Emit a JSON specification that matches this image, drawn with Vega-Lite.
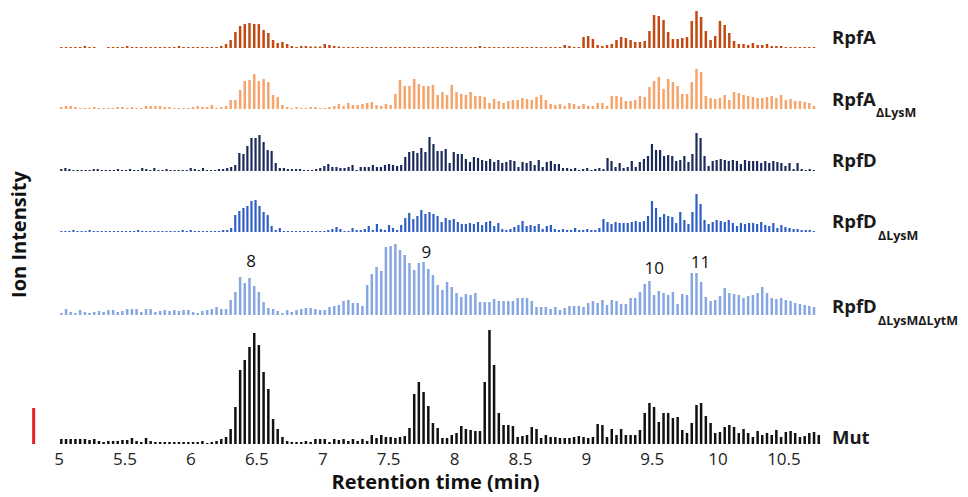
{
"$schema": "https://vega.github.io/schema/vega-lite/v6.json",
"background": "white",
"padding": {"left": 8, "top": 5, "right": 0, "bottom": 0},
"config": {"view": {"stroke": null}, "font": "Open Sans", "axis": {"grid": false}},
"spacing": 0,
"bounds": "flush",
"datasets": {
"ga": [
{"t":5.020,"A":1,"AL":2,"LL":2,"M":5},{"t":5.056,"A":1,"AL":3,"LL":6,"M":5},{"t":5.091,"A":1,"AL":3,"LL":3,"M":5},{"t":5.127,"A":1,"AL":2,"LL":2,"M":5},{"t":5.163,"A":1,"AL":1,"LL":5,"M":5},
{"t":5.199,"A":2,"AL":1,"LL":3,"M":5},{"t":5.234,"A":1,"AL":1,"LL":2,"M":4},{"t":5.270,"A":1,"AL":2,"LL":3,"M":5},{"t":5.306,"A":0,"AL":1,"LL":4,"M":3},{"t":5.341,"A":0,"AL":1,"LL":3,"M":2},
{"t":5.377,"A":1,"AL":1,"LL":5,"M":3},{"t":5.413,"A":1,"AL":1,"LL":5,"M":3},{"t":5.448,"A":1,"AL":2,"LL":3,"M":3},{"t":5.484,"A":1,"AL":2,"LL":4,"M":4},{"t":5.520,"A":2,"AL":1,"LL":6,"M":4},
{"t":5.556,"A":1,"AL":2,"LL":6,"M":6},{"t":5.591,"A":1,"AL":1,"LL":6,"M":3},{"t":5.627,"A":1,"AL":1,"LL":3,"M":2},{"t":5.663,"A":1,"AL":3,"LL":6,"M":6},{"t":5.698,"A":1,"AL":3,"LL":6,"M":3},
{"t":5.734,"A":1,"AL":3,"LL":3,"M":2},{"t":5.770,"A":1,"AL":3,"LL":4,"M":2},{"t":5.805,"A":1,"AL":2,"LL":5,"M":2},{"t":5.841,"A":1,"AL":2,"LL":4,"M":2},{"t":5.877,"A":1,"AL":1,"LL":5,"M":2},
{"t":5.913,"A":2,"AL":1,"LL":4,"M":2},{"t":5.948,"A":1,"AL":1,"LL":5,"M":2},{"t":5.984,"A":1,"AL":1,"LL":5,"M":2},{"t":6.020,"A":1,"AL":2,"LL":3,"M":2},{"t":6.055,"A":1,"AL":3,"LL":2,"M":2},
{"t":6.091,"A":1,"AL":2,"LL":4,"M":3},{"t":6.127,"A":1,"AL":2,"LL":5,"M":1},{"t":6.162,"A":1,"AL":4,"LL":6,"M":2},{"t":6.198,"A":1,"AL":1,"LL":8,"M":3},{"t":6.234,"A":2,"AL":2,"LL":6,"M":5},
{"t":6.270,"A":4,"AL":3,"LL":6,"M":7},{"t":6.305,"A":8,"AL":9,"LL":15,"M":15},{"t":6.341,"A":16,"AL":9,"LL":23,"M":37},{"t":6.377,"A":22,"AL":19,"LL":38,"M":74},{"t":6.412,"A":24,"AL":28,"LL":32,"M":84},
{"t":6.448,"A":25,"AL":29,"LL":37,"M":97},{"t":6.484,"A":24,"AL":35,"LL":29,"M":111},{"t":6.519,"A":24,"AL":28,"LL":23,"M":99},{"t":6.555,"A":18,"AL":30,"LL":13,"M":72},{"t":6.591,"A":15,"AL":27,"LL":7,"M":55},
{"t":6.627,"A":8,"AL":14,"LL":6,"M":25},{"t":6.662,"A":5,"AL":12,"LL":4,"M":15},{"t":6.698,"A":6,"AL":4,"LL":2,"M":7},{"t":6.734,"A":4,"AL":2,"LL":5,"M":3},{"t":6.769,"A":2,"AL":1,"LL":3,"M":2},
{"t":6.805,"A":1,"AL":2,"LL":5,"M":2},{"t":6.841,"A":2,"AL":1,"LL":6,"M":2},{"t":6.876,"A":2,"AL":1,"LL":7,"M":3},{"t":6.912,"A":1.5,"AL":2,"LL":7,"M":2},{"t":6.948,"A":1.5,"AL":2,"LL":6,"M":5},
{"t":6.984,"A":1.5,"AL":1,"LL":5,"M":5},{"t":7.019,"A":4,"AL":1,"LL":5,"M":5},{"t":7.055,"A":3,"AL":2,"LL":8,"M":2},{"t":7.091,"A":2,"AL":3,"LL":9,"M":5},{"t":7.126,"A":1.5,"AL":5,"LL":10,"M":4},
{"t":7.162,"A":1,"AL":3,"LL":14,"M":5},{"t":7.198,"A":1,"AL":6,"LL":15,"M":3},{"t":7.233,"A":1,"AL":4,"LL":12,"M":5},{"t":7.269,"A":1,"AL":4,"LL":12,"M":3},{"t":7.305,"A":1,"AL":5,"LL":9,"M":5},
{"t":7.341,"A":1,"AL":6,"LL":30,"M":3},{"t":7.376,"A":1,"AL":7,"LL":41,"M":9},{"t":7.412,"A":1,"AL":4,"LL":48,"M":6},{"t":7.448,"A":1,"AL":3,"LL":44,"M":9},{"t":7.483,"A":1,"AL":5,"LL":68,"M":7},
{"t":7.519,"A":1,"AL":4,"LL":69,"M":7},{"t":7.555,"A":1,"AL":15,"LL":71,"M":6},{"t":7.590,"A":1,"AL":29,"LL":65,"M":7},{"t":7.626,"A":1,"AL":23,"LL":60,"M":8},{"t":7.662,"A":1,"AL":23,"LL":52,"M":16},
{"t":7.698,"A":1,"AL":30,"LL":45,"M":50},{"t":7.733,"A":1,"AL":25,"LL":52,"M":62},{"t":7.769,"A":1,"AL":23,"LL":53,"M":52},{"t":7.805,"A":1,"AL":23,"LL":46,"M":38},{"t":7.840,"A":1,"AL":24,"LL":40,"M":21},
{"t":7.876,"A":1,"AL":14,"LL":30,"M":16},{"t":7.912,"A":1,"AL":17,"LL":25,"M":6},{"t":7.947,"A":1,"AL":14,"LL":33,"M":6},{"t":7.983,"A":1,"AL":24,"LL":28,"M":9},{"t":8.019,"A":1,"AL":17,"LL":22,"M":11},
{"t":8.055,"A":1,"AL":15,"LL":18,"M":18},{"t":8.090,"A":1,"AL":14,"LL":21,"M":15},{"t":8.126,"A":1,"AL":17,"LL":20,"M":14},{"t":8.162,"A":1,"AL":13,"LL":22,"M":13},{"t":8.197,"A":2,"AL":13,"LL":13,"M":13},
{"t":8.233,"A":1,"AL":12,"LL":13,"M":62},{"t":8.269,"A":1,"AL":6,"LL":13,"M":114},{"t":8.304,"A":1,"AL":10,"LL":16,"M":79},{"t":8.340,"A":1,"AL":8,"LL":14,"M":31},{"t":8.376,"A":1,"AL":6,"LL":14,"M":19},
{"t":8.412,"A":1,"AL":8,"LL":14,"M":19},{"t":8.447,"A":1,"AL":9,"LL":14,"M":18},{"t":8.483,"A":1,"AL":9,"LL":17,"M":7},{"t":8.519,"A":1,"AL":11,"LL":17,"M":8},{"t":8.554,"A":1,"AL":10,"LL":17,"M":9},
{"t":8.590,"A":1,"AL":9,"LL":14,"M":17},{"t":8.626,"A":1,"AL":12,"LL":8,"M":15},{"t":8.661,"A":1,"AL":14,"LL":8,"M":6},{"t":8.697,"A":1,"AL":9,"LL":8,"M":9},{"t":8.733,"A":1,"AL":5,"LL":6,"M":7},
{"t":8.769,"A":1,"AL":4,"LL":8,"M":7},{"t":8.804,"A":1,"AL":5,"LL":5,"M":6},{"t":8.840,"A":3,"AL":3,"LL":7,"M":6},{"t":8.876,"A":2,"AL":6,"LL":9,"M":6},{"t":8.911,"A":1,"AL":5,"LL":9,"M":7},
{"t":8.947,"A":1,"AL":3,"LL":9,"M":8},{"t":8.983,"A":11,"AL":5,"LL":8,"M":7},{"t":9.018,"A":12,"AL":3,"LL":12,"M":6},{"t":9.054,"A":9,"AL":3,"LL":14,"M":7},{"t":9.090,"A":3,"AL":6,"LL":12,"M":20},
{"t":9.126,"A":2,"AL":6,"LL":15,"M":19},{"t":9.161,"A":3,"AL":3,"LL":10,"M":7},{"t":9.197,"A":4,"AL":13,"LL":15,"M":15},{"t":9.233,"A":8,"AL":13,"LL":14,"M":9},{"t":9.268,"A":11,"AL":12,"LL":11,"M":15},
{"t":9.304,"A":10,"AL":8,"LL":11,"M":9},{"t":9.340,"A":8,"AL":8,"LL":17,"M":9},{"t":9.375,"A":6,"AL":9,"LL":17,"M":9},{"t":9.411,"A":6,"AL":13,"LL":23,"M":14},{"t":9.447,"A":7,"AL":12,"LL":31,"M":31},
{"t":9.483,"A":17,"AL":22,"LL":34,"M":41},{"t":9.518,"A":33,"AL":28,"LL":20,"M":37},{"t":9.554,"A":32,"AL":32,"LL":24,"M":22},{"t":9.590,"A":28,"AL":20,"LL":22,"M":31},{"t":9.625,"A":16,"AL":30,"LL":20,"M":31},
{"t":9.661,"A":9,"AL":27,"LL":23,"M":26},{"t":9.697,"A":9,"AL":23,"LL":11,"M":27},{"t":9.732,"A":10,"AL":15,"LL":21,"M":14},{"t":9.768,"A":11,"AL":15,"LL":20,"M":11},{"t":9.804,"A":27,"AL":27,"LL":42,"M":21},
{"t":9.840,"A":37,"AL":40,"LL":42,"M":39},{"t":9.875,"A":31,"AL":37,"LL":33,"M":41},{"t":9.911,"A":17,"AL":13,"LL":18,"M":28},{"t":9.947,"A":8,"AL":11,"LL":14,"M":21},{"t":9.982,"A":12,"AL":10,"LL":15,"M":11},
{"t":10.018,"A":27,"AL":11,"LL":19,"M":12},{"t":10.054,"A":23,"AL":14,"LL":27,"M":17},{"t":10.089,"A":15,"AL":9,"LL":22,"M":19},{"t":10.125,"A":7,"AL":17,"LL":21,"M":17},{"t":10.161,"A":4,"AL":16,"LL":20,"M":11},
{"t":10.197,"A":4,"AL":14,"LL":17,"M":15},{"t":10.232,"A":3,"AL":13,"LL":19,"M":11},{"t":10.268,"A":5,"AL":12,"LL":20,"M":7},{"t":10.304,"A":3,"AL":11,"LL":22,"M":13},{"t":10.339,"A":3,"AL":11,"LL":28,"M":9},
{"t":10.375,"A":4,"AL":12,"LL":22,"M":11},{"t":10.411,"A":2,"AL":13,"LL":17,"M":9},{"t":10.446,"A":2,"AL":11,"LL":16,"M":14},{"t":10.482,"A":2,"AL":14,"LL":17,"M":7},{"t":10.518,"A":1,"AL":9,"LL":15,"M":12},
{"t":10.554,"A":1,"AL":10,"LL":14,"M":13},{"t":10.589,"A":1,"AL":8,"LL":12,"M":11},{"t":10.625,"A":1,"AL":8,"LL":11,"M":7},{"t":10.661,"A":1,"AL":7,"LL":10,"M":8},{"t":10.696,"A":1,"AL":6,"LL":9,"M":11},
{"t":10.732,"A":1,"AL":3,"LL":8,"M":12},{"t":10.768,"A":0,"AL":0,"LL":0,"M":9}
],
"gd": [
{"t":5.020,"D":2,"DL":1},{"t":5.051,"D":3,"DL":1},{"t":5.081,"D":2,"DL":1},{"t":5.112,"D":1,"DL":2},{"t":5.143,"D":1,"DL":1},
{"t":5.174,"D":1,"DL":1},{"t":5.204,"D":1,"DL":1},{"t":5.235,"D":1,"DL":2},{"t":5.266,"D":2,"DL":1},{"t":5.296,"D":2,"DL":1},
{"t":5.327,"D":1,"DL":1},{"t":5.358,"D":1,"DL":1},{"t":5.388,"D":1,"DL":1},{"t":5.419,"D":1,"DL":1},{"t":5.450,"D":2,"DL":1},
{"t":5.481,"D":1,"DL":1},{"t":5.511,"D":1,"DL":1},{"t":5.542,"D":2,"DL":1},{"t":5.573,"D":1,"DL":1},{"t":5.603,"D":1,"DL":2},
{"t":5.634,"D":3,"DL":1},{"t":5.665,"D":2,"DL":1},{"t":5.695,"D":1,"DL":1},{"t":5.726,"D":3,"DL":1},{"t":5.757,"D":1,"DL":1},
{"t":5.788,"D":1,"DL":1},{"t":5.818,"D":2,"DL":1},{"t":5.849,"D":1,"DL":1},{"t":5.880,"D":1,"DL":1},{"t":5.910,"D":1,"DL":1},
{"t":5.941,"D":1,"DL":2},{"t":5.972,"D":1,"DL":1},{"t":6.002,"D":3,"DL":2},{"t":6.033,"D":2,"DL":1},{"t":6.064,"D":1,"DL":1},
{"t":6.095,"D":3,"DL":1},{"t":6.125,"D":1,"DL":1},{"t":6.156,"D":1,"DL":1},{"t":6.187,"D":1,"DL":1},{"t":6.217,"D":2,"DL":1},
{"t":6.248,"D":2,"DL":2},{"t":6.279,"D":3,"DL":2},{"t":6.309,"D":4,"DL":4},{"t":6.340,"D":6,"DL":17},{"t":6.371,"D":18,"DL":21},
{"t":6.402,"D":17,"DL":24},{"t":6.432,"D":25,"DL":26},{"t":6.463,"D":33,"DL":31},{"t":6.494,"D":33,"DL":32},{"t":6.524,"D":36,"DL":26},
{"t":6.555,"D":29,"DL":20},{"t":6.586,"D":21,"DL":17},{"t":6.616,"D":20,"DL":6},{"t":6.647,"D":8,"DL":2},{"t":6.678,"D":3,"DL":4},
{"t":6.709,"D":3,"DL":1},{"t":6.739,"D":2,"DL":1},{"t":6.770,"D":2,"DL":1},{"t":6.801,"D":2,"DL":1},{"t":6.831,"D":2,"DL":1},
{"t":6.862,"D":1,"DL":1},{"t":6.893,"D":1,"DL":1},{"t":6.923,"D":1,"DL":1},{"t":6.954,"D":2,"DL":1},{"t":6.985,"D":3,"DL":1},
{"t":7.016,"D":5,"DL":1},{"t":7.046,"D":7,"DL":2},{"t":7.077,"D":4,"DL":3},{"t":7.108,"D":4,"DL":5},{"t":7.138,"D":3,"DL":3},
{"t":7.169,"D":3,"DL":1},{"t":7.200,"D":4,"DL":1},{"t":7.230,"D":6,"DL":4},{"t":7.261,"D":1,"DL":2},{"t":7.292,"D":4,"DL":2},
{"t":7.323,"D":4,"DL":3},{"t":7.353,"D":4,"DL":6},{"t":7.384,"D":6,"DL":2},{"t":7.415,"D":4,"DL":8},{"t":7.445,"D":4,"DL":3},
{"t":7.476,"D":6,"DL":2},{"t":7.507,"D":7,"DL":7},{"t":7.537,"D":6,"DL":4},{"t":7.568,"D":5,"DL":2},{"t":7.599,"D":6,"DL":7},
{"t":7.630,"D":14,"DL":14},{"t":7.660,"D":19,"DL":19},{"t":7.691,"D":20,"DL":13},{"t":7.722,"D":18,"DL":16},{"t":7.752,"D":23,"DL":22},
{"t":7.783,"D":19,"DL":18},{"t":7.814,"D":34,"DL":20},{"t":7.844,"D":27,"DL":18},{"t":7.875,"D":20,"DL":16},{"t":7.906,"D":20,"DL":10},
{"t":7.937,"D":22,"DL":14},{"t":7.967,"D":8,"DL":12},{"t":7.998,"D":19,"DL":13},{"t":8.029,"D":17,"DL":10},{"t":8.059,"D":17,"DL":8},
{"t":8.090,"D":12,"DL":8},{"t":8.121,"D":9,"DL":9},{"t":8.151,"D":14,"DL":8},{"t":8.182,"D":13,"DL":10},{"t":8.213,"D":11,"DL":7},
{"t":8.244,"D":10,"DL":10},{"t":8.274,"D":12,"DL":11},{"t":8.305,"D":9,"DL":6},{"t":8.336,"D":11,"DL":9},{"t":8.366,"D":8,"DL":3},
{"t":8.397,"D":9,"DL":2},{"t":8.428,"D":11,"DL":3},{"t":8.458,"D":10,"DL":5},{"t":8.489,"D":4,"DL":7},{"t":8.520,"D":9,"DL":11},
{"t":8.551,"D":8,"DL":6},{"t":8.581,"D":10,"DL":7},{"t":8.612,"D":6,"DL":6},{"t":8.643,"D":11,"DL":8},{"t":8.673,"D":4,"DL":3},
{"t":8.704,"D":9,"DL":6},{"t":8.735,"D":10,"DL":7},{"t":8.765,"D":7,"DL":3},{"t":8.796,"D":7,"DL":2},{"t":8.827,"D":3,"DL":3},
{"t":8.858,"D":3,"DL":2},{"t":8.888,"D":2,"DL":2},{"t":8.919,"D":3,"DL":4},{"t":8.950,"D":1,"DL":2},{"t":8.980,"D":2,"DL":2},
{"t":9.011,"D":3,"DL":3},{"t":9.042,"D":1,"DL":2},{"t":9.072,"D":2,"DL":2},{"t":9.103,"D":3,"DL":4},{"t":9.134,"D":2,"DL":13},
{"t":9.165,"D":13,"DL":10},{"t":9.195,"D":10,"DL":8},{"t":9.226,"D":4,"DL":10},{"t":9.257,"D":8,"DL":9},{"t":9.287,"D":3,"DL":9},
{"t":9.318,"D":4,"DL":9},{"t":9.349,"D":10,"DL":10},{"t":9.379,"D":4,"DL":11},{"t":9.410,"D":9,"DL":10},{"t":9.441,"D":12,"DL":11},
{"t":9.472,"D":15,"DL":16},{"t":9.502,"D":27,"DL":31},{"t":9.533,"D":21,"DL":24},{"t":9.564,"D":21,"DL":15},{"t":9.594,"D":15,"DL":18},
{"t":9.625,"D":16,"DL":16},{"t":9.656,"D":15,"DL":15},{"t":9.686,"D":10,"DL":9},{"t":9.717,"D":11,"DL":20},{"t":9.748,"D":15,"DL":12},
{"t":9.779,"D":9,"DL":8},{"t":9.809,"D":17,"DL":20},{"t":9.840,"D":38,"DL":38},{"t":9.871,"D":33,"DL":28},{"t":9.901,"D":15,"DL":12},
{"t":9.932,"D":5,"DL":8},{"t":9.963,"D":10,"DL":10},{"t":9.993,"D":11,"DL":12},{"t":10.024,"D":12,"DL":11},{"t":10.055,"D":11,"DL":10},
{"t":10.085,"D":10,"DL":12},{"t":10.116,"D":11,"DL":9},{"t":10.147,"D":10,"DL":6},{"t":10.177,"D":7,"DL":9},{"t":10.208,"D":11,"DL":8},
{"t":10.239,"D":10,"DL":9},{"t":10.270,"D":10,"DL":9},{"t":10.300,"D":10,"DL":8},{"t":10.331,"D":8,"DL":10},{"t":10.362,"D":10,"DL":7},
{"t":10.392,"D":8,"DL":6},{"t":10.423,"D":10,"DL":9},{"t":10.454,"D":9,"DL":4},{"t":10.484,"D":8,"DL":7},{"t":10.515,"D":5,"DL":5},
{"t":10.546,"D":8,"DL":4},{"t":10.577,"D":2,"DL":3},{"t":10.607,"D":8,"DL":3},{"t":10.638,"D":2,"DL":2},{"t":10.669,"D":1,"DL":2},
{"t":10.699,"D":2,"DL":2},{"t":10.730,"D":1,"DL":1}
],
"peaks": [
{"peak":"8","t":6.46,"h":53},{"peak":"9","t":7.79,"h":62},{"peak":"10","t":9.52,"h":46},{"peak":"11","t":9.87,"h":52}
]
},
"vconcat": [
{"width":802,"height":43,"layer":[
 {"data":{"name":"ga"},"mark":{"type":"bar","size":2.5,"color":"#c24a12"},"encoding":{"x":{"field":"t","type":"quantitative","scale":{"domain":[4.79,10.8],"nice":false,"zero":false},"axis":null},"y":{"field":"A","type":"quantitative","scale":{"domain":[0,43],"nice":false},"axis":null}}},
 {"data":{"values":[{}]},"mark":{"type":"text","align":"left","baseline":"alphabetic","fontSize":18.5,"fontWeight":"bold","color":"#1a1a1a"},"encoding":{"x":{"datum":10.868},"y":{"datum":4},"text":{"value":"RpfA"}}}
]},
{"width":802,"height":61,"layer":[
 {"data":{"name":"ga"},"mark":{"type":"bar","size":2.5,"color":"#f5a46b"},"encoding":{"x":{"field":"t","type":"quantitative","scale":{"domain":[4.79,10.8],"nice":false,"zero":false},"axis":null},"y":{"field":"AL","type":"quantitative","scale":{"domain":[0,61],"nice":false},"axis":null}}},
 {"data":{"values":[{}]},"mark":{"type":"text","align":"left","baseline":"alphabetic","fontSize":18.5,"fontWeight":"bold","color":"#1a1a1a"},"encoding":{"x":{"datum":10.868},"y":{"datum":3},"text":{"value":"RpfA"}}},
 {"data":{"values":[{}]},"mark":{"type":"text","align":"left","baseline":"alphabetic","fontSize":12.5,"fontWeight":"bold","color":"#1a1a1a","dx":44},"encoding":{"x":{"datum":10.868},"y":{"datum":-7.7},"text":{"value":"ΔLysM"}}}
]},
{"width":802,"height":62,"layer":[
 {"data":{"name":"gd"},"mark":{"type":"bar","size":2.2,"color":"#1c2a5a"},"encoding":{"x":{"field":"t","type":"quantitative","scale":{"domain":[4.79,10.8],"nice":false,"zero":false},"axis":null},"y":{"field":"D","type":"quantitative","scale":{"domain":[0,62],"nice":false},"axis":null}}},
 {"data":{"values":[{}]},"mark":{"type":"text","align":"left","baseline":"alphabetic","fontSize":18.5,"fontWeight":"bold","color":"#1a1a1a"},"encoding":{"x":{"datum":10.868},"y":{"datum":4.3},"text":{"value":"RpfD"}}}
]},
{"width":802,"height":61,"layer":[
 {"data":{"name":"gd"},"mark":{"type":"bar","size":2.2,"color":"#2f5fc4"},"encoding":{"x":{"field":"t","type":"quantitative","scale":{"domain":[4.79,10.8],"nice":false,"zero":false},"axis":null},"y":{"field":"DL","type":"quantitative","scale":{"domain":[0,61],"nice":false},"axis":null}}},
 {"data":{"values":[{}]},"mark":{"type":"text","align":"left","baseline":"alphabetic","fontSize":18.5,"fontWeight":"bold","color":"#1a1a1a"},"encoding":{"x":{"datum":10.868},"y":{"datum":4},"text":{"value":"RpfD"}}},
 {"data":{"values":[{}]},"mark":{"type":"text","align":"left","baseline":"alphabetic","fontSize":12.5,"fontWeight":"bold","color":"#1a1a1a","dx":46},"encoding":{"x":{"datum":10.868},"y":{"datum":-8},"text":{"value":"ΔLysM"}}}
]},
{"width":802,"height":83,"layer":[
 {"data":{"name":"ga"},"mark":{"type":"bar","size":2.5,"color":"#87a7e2"},"encoding":{"x":{"field":"t","type":"quantitative","scale":{"domain":[4.79,10.8],"nice":false,"zero":false},"axis":null},"y":{"field":"LL","type":"quantitative","scale":{"domain":[0,83],"nice":false},"axis":{"title":"Ion Intensity","labels":false,"ticks":false,"domain":false,"grid":false,"titleX":-1,"titleY":2,"titleAngle":-90,"titleAlign":"center","titleBaseline":"alphabetic","titleFontSize":20,"titleFontWeight":"bold","titleColor":"#111111"}}}},
 {"data":{"name":"peaks"},"mark":{"type":"text","align":"center","baseline":"middle","fontSize":17,"color":"#111111"},"encoding":{"x":{"field":"t","type":"quantitative"},"y":{"field":"h","type":"quantitative"},"text":{"field":"peak"}}},
 {"data":{"values":[{}]},"mark":{"type":"text","align":"left","baseline":"alphabetic","fontSize":18.5,"fontWeight":"bold","color":"#1a1a1a"},"encoding":{"x":{"datum":10.868},"y":{"datum":1.7},"text":{"value":"RpfD"}}},
 {"data":{"values":[{}]},"mark":{"type":"text","align":"left","baseline":"alphabetic","fontSize":12.5,"fontWeight":"bold","color":"#1a1a1a","dx":46},"encoding":{"x":{"datum":10.868},"y":{"datum":-10},"text":{"value":"ΔLysMΔLytM"}}}
]},
{"width":802,"height":129,"layer":[
 {"data":{"name":"ga"},"mark":{"type":"bar","size":2.5,"color":"#111111"},"encoding":{"x":{"field":"t","type":"quantitative","scale":{"domain":[4.79,10.8],"nice":false,"zero":false},"axis":{"values":[5,5.5,6,6.5,7,7.5,8,8.5,9,9.5,10,10.5],"format":"~g","ticks":false,"domain":false,"grid":false,"labelFontSize":17,"labelPadding":7,"labelColor":"#222222","title":"Retention time (min)","titleFontSize":20,"titleFontWeight":"bold","titleColor":"#111111","titlePadding":5,"titleX":409}},"y":{"field":"M","type":"quantitative","scale":{"domain":[0,129],"nice":false},"axis":null}}},
 {"data":{"values":[{}]},"mark":{"type":"rule","color":"#e8202a","strokeWidth":3},"encoding":{"x":{"datum":4.81},"y":{"datum":0},"y2":{"datum":36}}},
 {"data":{"values":[{}]},"mark":{"type":"text","align":"left","baseline":"alphabetic","fontSize":18.5,"fontWeight":"bold","color":"#1a1a1a"},"encoding":{"x":{"datum":10.868},"y":{"datum":0},"text":{"value":"Mut"}}}
]}
]
}
